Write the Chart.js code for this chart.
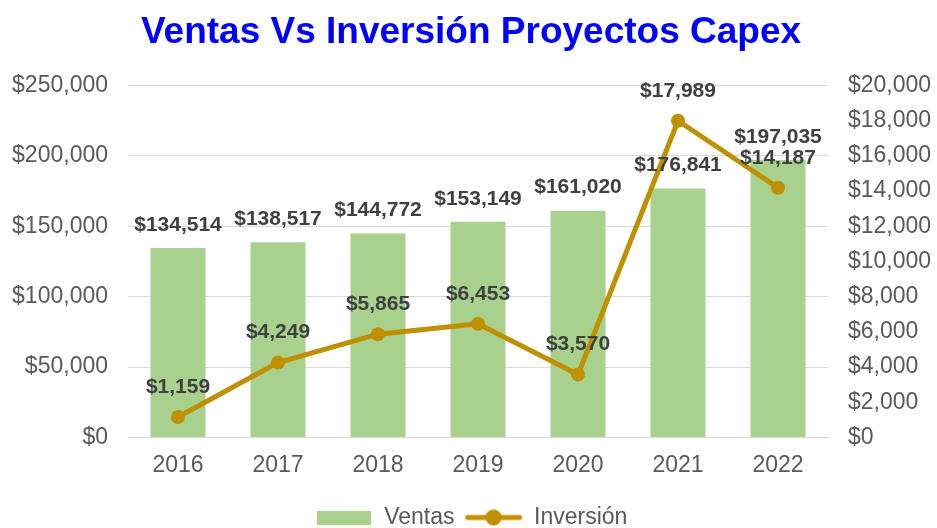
<!DOCTYPE html>
<html>
<head>
<meta charset="utf-8">
<script src="https://cdn.jsdelivr.net/npm/chart.js@4/dist/chart.umd.min.js"></script>
<style>
html,body{margin:0;padding:0;background:#fff;}
#wrap{width:937px;height:528px;position:relative;}
</style>
</head>
<body>
<div id="wrap"><canvas id="c" width="937" height="528"></canvas></div>
<script>
const categories = ['2016','2017','2018','2019','2020','2021','2022'];
const ventas = [134514, 138517, 144772, 153149, 161020, 176841, 197035];
const inversion = [1159, 4249, 5865, 6453, 3570, 17989, 14187];
const leftTicks = [0, 50000, 100000, 150000, 200000, 250000];
const rightTicks = [0, 2000, 4000, 6000, 8000, 10000, 12000, 14000, 16000, 18000, 20000];

const GREEN = '#A9D18E';
const GOLD = '#BF9000';
const FONT = "'Liberation Sans', Arial, sans-serif";

function money(v){ return '$' + Math.round(v).toLocaleString('en-US'); }

function makeBarIcon(){
  const c = document.createElement('canvas'); c.width = 54; c.height = 14;
  const x = c.getContext('2d'); x.fillStyle = GREEN; x.fillRect(0,0,54,14); return c;
}
function makeLineIcon(){
  const c = document.createElement('canvas'); c.width = 58; c.height = 18;
  const x = c.getContext('2d');
  x.strokeStyle = GOLD; x.lineWidth = 5; x.lineCap='round';
  x.beginPath(); x.moveTo(3,9); x.lineTo(55,9); x.stroke();
  x.fillStyle = GOLD; x.beginPath(); x.arc(29,9,8,0,Math.PI*2); x.fill();
  return c;
}
const barIcon = makeBarIcon();
const lineIcon = makeLineIcon();

const labelPlugin = {
  id: 'valueLabels',
  afterDatasetsDraw(chart){
    const ctx = chart.ctx;
    ctx.save();
    ctx.font = "bold 21px " + FONT;
    ctx.fillStyle = '#404040';
    ctx.textAlign = 'center';
    ctx.textBaseline = 'middle';
    chart.data.datasets.forEach((ds, di) => {
      const meta = chart.getDatasetMeta(di);
      const off = ds.type === 'line' ? 30 : 23;
      meta.data.forEach((el, i) => {
        ctx.fillText(money(ds.data[i]), el.x, el.y - off);
      });
    });
    ctx.restore();
  }
};

new Chart(document.getElementById('c'), {
  data: {
    labels: categories,
    datasets: [
      {
        type: 'line', label: 'Inversión', data: inversion, yAxisID: 'y1',
        borderColor: GOLD, backgroundColor: GOLD, borderWidth: 5,
        pointRadius: 7, pointHoverRadius: 7, pointBackgroundColor: GOLD, pointBorderWidth: 0,
        tension: 0, order: 0
      },
      {
        type: 'bar', label: 'Ventas', data: ventas, yAxisID: 'y',
        backgroundColor: GREEN, borderWidth: 0,
        barPercentage: 0.55, categoryPercentage: 1.0, order: 1
      }
    ]
  },
  options: {
    responsive: false,
    animation: false,
    layout: { padding: { left: 10, right: 5, top: 0, bottom: -11 } },
    scales: {
      x: {
        grid: { display: false, drawTicks: false },
        border: { display: true, color: '#D9D9D9', width: 1 },
        ticks: { font: { family: FONT, size: 23 }, color: '#595959', padding: 14 },
        afterFit(ax){ ax.height += 3; }
      },
      y: {
        position: 'left', min: 0, max: 250000,
        afterBuildTicks(ax){ ax.ticks = leftTicks.map(v => ({value: v})); },
        afterFit(ax){ ax.width = 118; },
        grid: { color: '#D9D9D9', lineWidth: 1, drawTicks: false },
        border: { display: false },
        ticks: { font: { family: FONT, size: 23 }, color: '#595959', padding: 20, callback: v => money(v) }
      },
      y1: {
        position: 'right', min: 0, max: 20000,
        afterBuildTicks(ax){ ax.ticks = rightTicks.map(v => ({value: v})); },
        afterFit(ax){ ax.width = 104; },
        grid: { display: false, drawTicks: false },
        border: { display: false },
        ticks: { font: { family: FONT, size: 23 }, color: '#595959', padding: 20, callback: v => money(v) }
      }
    },
    plugins: {
      title: {
        display: true, text: 'Ventas Vs Inversión Proyectos Capex',
        color: '#0000FF', font: { family: FONT, size: 37, weight: 'bold' },
        padding: { top: 11, bottom: 30 }
      },
      legend: {
        position: 'bottom',
        labels: {
          usePointStyle: true, pointStyleWidth: 58,
          font: { family: FONT, size: 23 }, color: '#595959', padding: 10,
          generateLabels(chart){
            return [
              { text: 'Ventas', pointStyle: barIcon, fillStyle: GREEN, strokeStyle: GREEN, lineWidth: 0, datasetIndex: 1, fontColor: '#595959' },
              { text: 'Inversión', pointStyle: lineIcon, fillStyle: GOLD, strokeStyle: GOLD, lineWidth: 0, datasetIndex: 0, fontColor: '#595959' }
            ];
          }
        }
      },
      tooltip: { enabled: false }
    }
  },
  plugins: [labelPlugin]
});
</script>
</body>
</html>
